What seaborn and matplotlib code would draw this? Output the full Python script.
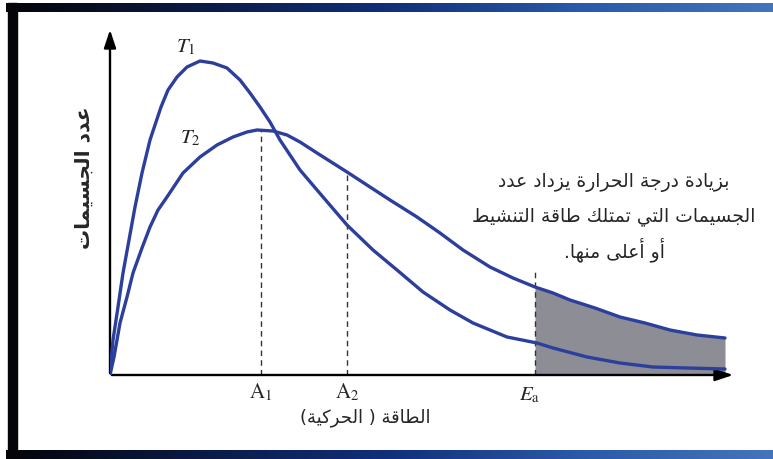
import numpy as np
import pandas as pd
import matplotlib
matplotlib.use("Agg")
import matplotlib.pyplot as plt
from matplotlib.colors import LinearSegmentedColormap
import seaborn as sns

# ---------------- data (energy vs number of particles) -------------
energy_T1 = [0, 3, 8, 13, 19, 25, 32, 40, 51, 58, 67, 77, 90, 103, 117, 130, 140, 150, 160, 170,
             180, 190, 213, 237, 263, 287, 313, 340, 363, 397, 427, 443, 477, 510, 543, 577, 615]
count_T1 = [0, 35, 68, 102, 135, 168, 202, 235, 268, 285, 298, 308, 314, 312, 307, 295, 282, 268, 253, 235,
            220, 205, 178, 150, 125, 105, 83, 65, 52, 38, 32, 27, 18, 12, 8, 7, 6]
energy_T2 = [0, 4, 10, 17, 23, 32, 40, 48, 57, 73, 90, 107, 123, 137, 147, 163, 177, 190, 207, 237,
             260, 280, 307, 330, 353, 380, 403, 425, 443, 460, 485, 510, 535, 560, 587, 615]
count_T2 = [0, 18, 52, 78, 102, 127, 148, 165, 178, 202, 218, 230, 238, 243, 245, 244, 240, 233, 222, 203,
            188, 175, 158, 142, 125, 108, 97, 88, 82, 75, 67, 58, 52, 45, 40, 37]
series_names = ["T1", "T2"]
marker_names = ["A1", "A2", "Ea"]
marker_x = [151, 237, 425]
marker_top = [245, 203, 103]

# ---------------- Arabic shaping (presentation forms + RTL order) ----------------
FORMS = {
    'ا': ('\uFE8D', '\uFE8E', None, None), 'أ': ('\uFE83', '\uFE84', None, None),
    'ب': ('\uFE8F', '\uFE90', '\uFE91', '\uFE92'), 'ة': ('\uFE93', '\uFE94', None, None),
    'ت': ('\uFE95', '\uFE96', '\uFE97', '\uFE98'), 'ج': ('\uFE9D', '\uFE9E', '\uFE9F', '\uFEA0'),
    'ح': ('\uFEA1', '\uFEA2', '\uFEA3', '\uFEA4'), 'د': ('\uFEA9', '\uFEAA', None, None),
    'ر': ('\uFEAD', '\uFEAE', None, None), 'ز': ('\uFEAF', '\uFEB0', None, None),
    'س': ('\uFEB1', '\uFEB2', '\uFEB3', '\uFEB4'), 'ش': ('\uFEB5', '\uFEB6', '\uFEB7', '\uFEB8'),
    'ط': ('\uFEC1', '\uFEC2', '\uFEC3', '\uFEC4'), 'ع': ('\uFEC9', '\uFECA', '\uFECB', '\uFECC'),
    'ق': ('\uFED5', '\uFED6', '\uFED7', '\uFED8'), 'ك': ('\uFED9', '\uFEDA', '\uFEDB', '\uFEDC'),
    'ل': ('\uFEDD', '\uFEDE', '\uFEDF', '\uFEE0'), 'م': ('\uFEE1', '\uFEE2', '\uFEE3', '\uFEE4'),
    'ن': ('\uFEE5', '\uFEE6', '\uFEE7', '\uFEE8'), 'ه': ('\uFEE9', '\uFEEA', '\uFEEB', '\uFEEC'),
    'و': ('\uFEED', '\uFEEE', None, None), 'ى': ('\uFEEF', '\uFEF0', None, None),
    'ي': ('\uFEF1', '\uFEF2', '\uFEF3', '\uFEF4'),
}
MIRROR = {'(': ')', ')': '('}


def ar(s):
    out = []
    n = len(s)
    for i, c in enumerate(s):
        f = FORMS.get(c)
        if f is None:
            out.append(MIRROR.get(c, c))
            continue
        prev = s[i - 1] if i > 0 else ''
        nxt = s[i + 1] if i < n - 1 else ''
        jp = prev in FORMS and FORMS[prev][2] is not None
        jn = nxt in FORMS and f[2] is not None
        if jp and jn:
            out.append(f[3])
        elif jp:
            out.append(f[1])
        elif jn:
            out.append(f[2])
        else:
            out.append(f[0])
    return ''.join(reversed(out))


xlabel_text = "الطاقة ( الحركية)"
ylabel_text = "عدد الجسيمات"
note_lines = ["بزيادة درجة الحرارة يزداد عدد",
              "الجسيمات التي تمتلك طاقة التنشيط",
              "أو أعلى منها."]

# ---------------- figure ----------------
sns.set_theme(style="white")
plt.rcParams['font.family'] = ['DejaVu Sans']
plt.rcParams['mathtext.fontset'] = 'stix'

W, H = 773, 459
fig = plt.figure(figsize=(W / 100, H / 100), dpi=100)
fig.patch.set_facecolor("white")

# frame (pixel coordinates)
bg = fig.add_axes([0, 0, 1, 1], zorder=-5)
bg.axis("off")
cmap = LinearSegmentedColormap.from_list("band", ["#040409", "#0b1a45", "#10307a", "#2a5aa8", "#4474bb"])
grad = np.linspace(0, 1, 256).reshape(1, -1)
bg.imshow(grad, cmap=cmap, aspect="auto", extent=[6, W, 12, 3])
bg.imshow(grad, cmap=cmap, aspect="auto", extent=[6, W, H, 450])
bg.add_patch(plt.Rectangle((8, 3), 9, 456, color="#040409"))
bg.set_xlim(0, W)
bg.set_ylim(H, 0)

# main axes: origin at pixel (110, 375)
x0, y0 = 110, 375
ax = fig.add_axes([x0 / W, (H - y0) / H, 630 / W, 350 / H])
ax.set_xlim(0, 630)
ax.set_ylim(0, 350)
ax.axis("off")
ax.patch.set_alpha(0)

df = pd.concat([
    pd.DataFrame({"energy": energy_T1, "count": count_T1, "T": series_names[0]}),
    pd.DataFrame({"energy": energy_T2, "count": count_T2, "T": series_names[1]}),
])
curve_color = "#2c3f9c"
sns.lineplot(data=df, x="energy", y="count", hue="T", estimator=None, sort=False,
             palette={series_names[0]: curve_color, series_names[1]: curve_color},
             linewidth=2.4, legend=False, ax=ax, zorder=4)
for ln in ax.lines:
    ln.set_solid_joinstyle("round")
    ln.set_solid_capstyle("round")

# shaded area under T2 beyond Ea
e2 = np.array(energy_T2)
c2 = np.array(count_T2)
m = e2 >= marker_x[2]
ax.fill_between(e2[m], 0, c2[m], color="#8d8e95", zorder=2, linewidth=0)

# dashed guides
for xm, top in zip(marker_x, marker_top):
    ax.plot([xm, xm], [0, top], ls=(0, (4, 3)), color="#333333", lw=1.0, zorder=3)

# axes with arrows
ax.annotate("", xy=(0, 348), xytext=(0, -1), annotation_clip=False,
            arrowprops=dict(arrowstyle="-|>,head_length=0.9,head_width=0.3", color="black", lw=1.7))
ax.annotate("", xy=(626, 0), xytext=(-1, 0), annotation_clip=False,
            arrowprops=dict(arrowstyle="-|>,head_length=0.9,head_width=0.3", color="black", lw=1.7))

# labels
ax.text(76, 328, r"$T_1$", fontsize=15, ha="center", va="center", color="#222222")
ax.text(80, 237, r"$T_2$", fontsize=15, ha="center", va="center", color="#222222")
ax.text(151, -17, r"$\mathrm{A}_1$", fontsize=15, ha="center", va="center", clip_on=False)
ax.text(237, -17, r"$\mathrm{A}_2$", fontsize=15, ha="center", va="center", clip_on=False)
ax.text(420, -20, r"$E_\mathrm{a}$", fontsize=15, ha="center", va="center", clip_on=False)

fig.text(365 / W, 1 - 418 / H, ar(xlabel_text), fontsize=13, ha="center", va="center")
fig.text(84 / W, 1 - 178 / H, ar(ylabel_text), fontsize=14.5, ha="center", va="center",
         rotation=90, fontweight="bold")

for line, yy in zip(note_lines, [183, 216, 250]):
    fig.text(614 / W, 1 - yy / H, ar(line), fontsize=13.5, ha="center", va="center")

fig.savefig("out.png", dpi=100)
